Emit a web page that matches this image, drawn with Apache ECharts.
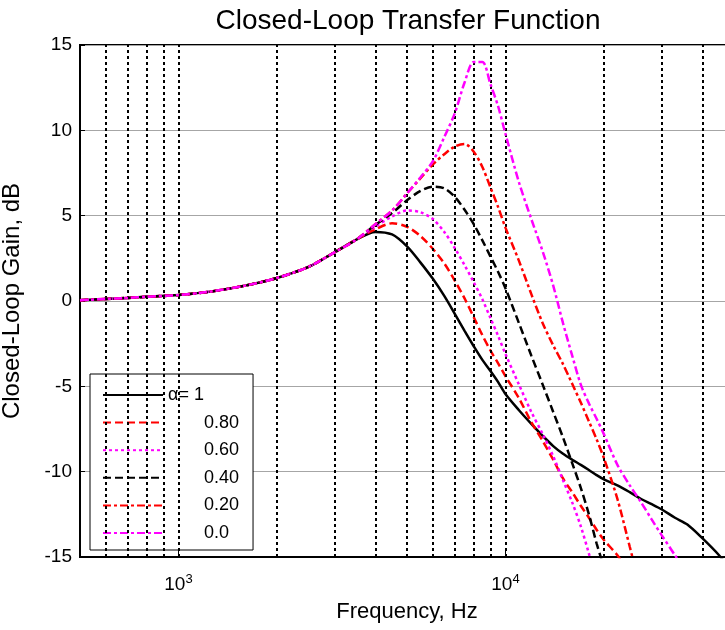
<!DOCTYPE html>
<html>
<head>
<meta charset="utf-8">
<title>Closed-Loop Transfer Function</title>
<script src="https://cdn.jsdelivr.net/npm/echarts@6/dist/echarts.min.js"></script>
<style>
  html, body { margin: 0; padding: 0; background: #fff; }
  #main { width: 725px; height: 630px; }
</style>
</head>
<body>
<div id="main"></div>
<script>
// frequency points (Hz), shared by every curve
var freq = [500, 600, 700, 800, 1000, 1250, 1600, 2000, 2500, 3000, 3500,
    4000, 4500, 5000, 5500, 6000, 6500, 7000, 7500, 8000, 8500, 9000, 9500, 10000,
    11000, 12000, 13000, 14000, 15000, 16000, 17000, 18000, 19000, 20000,
    22000, 24000, 26000, 28000, 30000, 33000, 36000, 40000, 45000, 50000];

// closed-loop gain (dB), one array per alpha
var gainA100 = [0.05, 0.12, 0.18, 0.25, 0.35, 0.55, 0.9, 1.35, 2.0, 2.85, 3.6,
    4.05, 3.9, 3.2, 2.25, 1.3, 0.3, -0.75, -1.75, -2.65, -3.45, -4.1, -4.75, -5.45,
    -6.4, -7.2, -7.9, -8.5, -8.95, -9.3, -9.6, -9.9, -10.2, -10.45,
    -10.8, -11.2, -11.6, -11.9, -12.2, -12.7, -13.1, -13.9, -14.9, -16.0];
var gainA080 = [0.05, 0.12, 0.18, 0.25, 0.35, 0.55, 0.9, 1.35, 2.0, 2.85, 3.6,
    4.2, 4.55, 4.35, 3.8, 3.05, 2.2, 1.2, 0.15, -0.95, -2.0, -2.9, -3.65, -4.4,
    -5.7, -7.1, -8.2, -9.3, -10.4, -11.2, -12.0, -12.7, -13.4, -14.0,
    -14.9, -16.0, null, null, null, null, null, null, null, null];
var gainA060 = [0.05, 0.12, 0.18, 0.25, 0.35, 0.55, 0.9, 1.35, 2.0, 2.85, 3.6,
    4.35, 4.95, 5.3, 5.2, 4.8, 4.05, 3.1, 2.1, 1.1, 0.1, -1.0, -2.05, -3.1,
    -4.9, -6.5, -7.8, -9.1, -10.5, -11.8, -13.2, -14.8, -16.4, null,
    null, null, null, null, null, null, null, null, null, null];
var gainA040 = [0.05, 0.12, 0.18, 0.25, 0.35, 0.55, 0.9, 1.35, 2.0, 2.85, 3.6,
    4.45, 5.15, 5.9, 6.45, 6.7, 6.6, 6.1, 5.35, 4.5, 3.55, 2.6, 1.7, 0.75,
    -1.3, -3.2, -4.9, -6.5, -8.0, -9.5, -10.95, -12.5, -14.2, -15.6,
    null, null, null, null, null, null, null, null, null, null];
var gainA020 = [0.05, 0.12, 0.18, 0.25, 0.35, 0.55, 0.9, 1.35, 2.0, 2.85, 3.6,
    4.5, 5.3, 6.3, 7.2, 8.0, 8.6, 9.05, 9.2, 8.75, 7.85, 6.65, 5.5, 4.3,
    2.35, 0.4, -1.3, -2.6, -3.7, -4.85, -5.95, -7.05, -8.1, -9.2,
    -11.6, -14.4, -17.0, null, null, null, null, null, null, null];
var gainA000 = [0.05, 0.12, 0.18, 0.25, 0.35, 0.55, 0.9, 1.35, 2.0, 2.85, 3.6,
    4.5, 5.3, 6.3, 7.25, 8.2, 9.6, 11.0, 12.8, 14.0, 14.0, 12.7, 11.4, 9.8,
    6.95, 4.8, 2.9, 0.9, -1.3, -3.2, -4.9, -6.0, -6.9, -7.8,
    -9.6, -10.8, -11.8, -12.8, -13.7, -14.9, -16.0, null, null, null];

var seriesNames = ['α= 1', '0.80', '0.60', '0.40', '0.20', '0.0'];
var seriesGains = [gainA100, gainA080, gainA060, gainA040, gainA020, gainA000];

// dotted vertical grid at 2..9 of every decade
var gridFreq = [600, 700, 800, 900, 1000, 2000, 3000, 4000, 5000, 6000, 7000,
    8000, 9000, 10000, 20000, 30000, 40000];

var font = "'Liberation Sans', Arial, sans-serif";

// line look per curve: black solid, red --, magenta :, black --, red -., magenta -.
var looks = [
    { color: '#000000', type: 'solid' },
    { color: '#ff0000', type: [8, 4] },
    { color: '#ff00ff', type: [3, 3] },
    { color: '#000000', type: [8, 4] },
    { color: '#ff0000', type: [8, 3, 3, 3] },
    { color: '#ff00ff', type: [8, 3, 3, 3] }
];

var series = [{
    // carries only the dotted vertical grid lines
    type: 'line',
    data: [],
    z: 1,
    silent: true,
    markLine: {
        silent: true,
        symbol: ['none', 'none'],
        label: { show: false },
        animation: false,
        lineStyle: { color: '#000', type: [3, 3], width: 2 },
        data: gridFreq.map(function (f) { return { xAxis: f }; })
    }
}];

seriesNames.forEach(function (name, k) {
    series.push({
        name: name,
        type: 'line',
        z: 3 + k,
        symbol: 'none',
        smooth: 0.3,
        clip: true,
        lineStyle: { color: looks[k].color, type: looks[k].type, width: 2.5 },
        itemStyle: { color: looks[k].color },
        data: freq.map(function (f, i) { return [f, seriesGains[k][i]]; })
    });
});

var chart = echarts.init(document.getElementById('main'), null, { renderer: 'canvas' });
chart.setOption({
    animation: false,
    backgroundColor: '#ffffff',
    title: {
        text: 'Closed-Loop Transfer Function',
        left: 403,
        textAlign: 'center',
        top: 2,
        textStyle: { fontFamily: font, fontSize: 28, fontWeight: 'normal', color: '#000' }
    },
    grid: {
        left: 80, top: 45, right: -9, bottom: 73,
        show: true, borderColor: '#000', borderWidth: 2, backgroundColor: 'transparent',
        containLabel: false,
        outerBoundsMode: 'none'
    },
    legend: {
        orient: 'vertical',
        left: 90,
        top: 374,
        padding: [12, 14, 8, 12],
        itemWidth: 60,
        itemHeight: 18,
        itemGap: 9.6,
        backgroundColor: '#fff',
        borderColor: '#000',
        borderWidth: 1,
        selectedMode: false,
        itemStyle: { opacity: 0 },
        data: seriesNames,
        textStyle: {
            fontFamily: font, fontSize: 18, color: '#000', lineHeight: 18,
            rich: { p: { fontFamily: font, fontSize: 18, color: '#000', padding: [0, 0, 0, 36] } }
        },
        formatter: function (name) {
            return name.charAt(0) === 'α' ? name : '{p|' + name + '}';
        }
    },
    xAxis: {
        type: 'log',
        logBase: 10,
        min: 500,
        max: 50000,
        name: 'Frequency, Hz',
        nameLocation: 'middle',
        nameGap: 44,
        nameTextStyle: { fontFamily: font, fontSize: 22, color: '#000' },
        axisLine: { show: true, onZero: false, lineStyle: { color: '#000', width: 2 } },
        axisTick: { show: true, inside: true, length: 6, lineStyle: { color: '#000' } },
        splitLine: { show: false },
        axisLabel: {
            margin: 16,
            showMinLabel: false,
            showMaxLabel: false,
            formatter: function (v) {
                var e = Math.log(v) / Math.LN10;
                if (Math.abs(e - Math.round(e)) > 1e-6) return '';
                return '{b|10}{s|' + Math.round(e) + '}';
            },
            rich: {
                b: { fontFamily: font, fontSize: 19, color: '#000', lineHeight: 24 },
                s: { fontFamily: font, fontSize: 13, color: '#000', verticalAlign: 'top', padding: [0, 0, 10, 0] }
            }
        }
    },
    yAxis: {
        type: 'value',
        min: -15,
        max: 15,
        interval: 5,
        name: 'Closed-Loop Gain, dB',
        nameLocation: 'middle',
        nameGap: 56,
        nameTextStyle: { fontFamily: font, fontSize: 24, color: '#000' },
        axisLine: { show: true, lineStyle: { color: '#000', width: 2 } },
        axisTick: { show: true, inside: true, length: 5, lineStyle: { color: '#000' } },
        axisLabel: { fontFamily: font, fontSize: 19, color: '#000', margin: 8 },
        splitLine: { show: true, lineStyle: { color: '#a6a6a6', width: 1 } }
    },
    series: series
});
</script>
</body>
</html>
